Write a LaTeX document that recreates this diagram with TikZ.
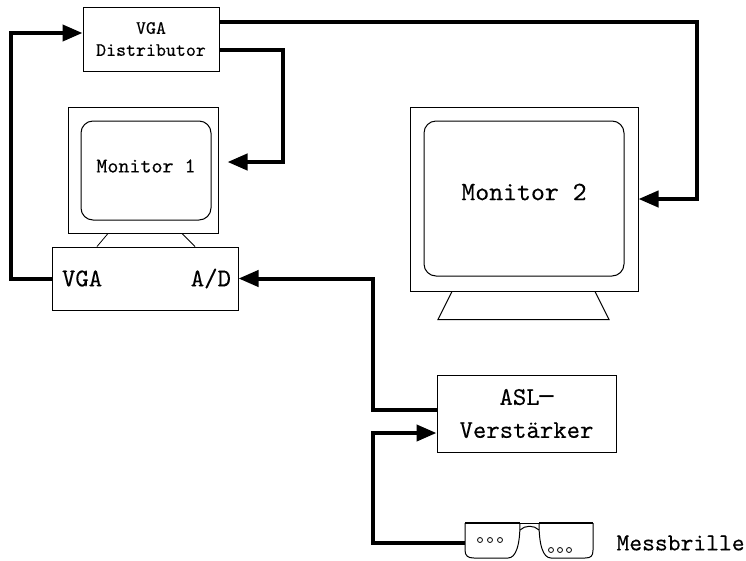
\documentclass[tikz,border=0pt]{standalone}
\usepackage{fontspec}
\newfontfamily\devfont{lmmono10-regular}[Extension=.otf, FakeBold=0.2]
\newfontfamily\dashfont{DejaVu Sans Mono}
\usetikzlibrary{arrows.meta, positioning, calc}

\begin{document}
\begin{tikzpicture}[x=1pt, y=-1pt,
    box/.style={draw, line width=1pt, inner sep=0pt, font=\devfont},
    screen/.style={draw, line width=1pt, rounded corners=12pt, inner sep=0pt},
    conn/.style={line width=4pt, -{Triangle[length=20pt, width=16pt]}}]
    \useasboundingbox (0,0) rectangle (746,560);

    % Geraete
    \node[box, minimum width=136pt, minimum height=64pt, align=center,
          font=\devfont\fontsize{19}{22}\selectfont] (dist) at (151,39) {VGA\\Distributor};
    \node[box, minimum width=150pt, minimum height=126pt] (mon1) at (143,170) {};
    \node[screen, minimum width=130pt, minimum height=99pt] (scr1) at (146,170.5) {};
    \node[font=\devfont\fontsize{21}{24}\selectfont] (txt1) at (146,166) {Monitor 1};
    \node[box, minimum width=186pt, minimum height=63pt] (pc) at (145,278.5) {};
    \node[font=\devfont\fontsize{25.5}{28}\selectfont, anchor=west] (vga) at ([xshift=7pt]pc.west) {VGA};
    \node[font=\devfont\fontsize{25.5}{28}\selectfont, anchor=east] (ad) at ([xshift=-4pt]pc.east) {A/D};

    \node[box, minimum width=228pt, minimum height=184pt] (mon2) at (524,199) {};
    \node[screen, minimum width=200pt, minimum height=155pt] (scr2) at (524,198.5) {};
    \node[font=\devfont\fontsize{26.5}{30}\selectfont] (txt2) at (524,192) {Monitor 2};

    \node[box, minimum width=179pt, minimum height=77pt, align=center,
          font=\devfont\fontsize{25.5}{33}\selectfont] (asl) at (526.5,413.5)
          {ASL{\dashfont\fontsize{23}{33}\selectfont ─}\\Verstärker};

    % Monitorfuesse
    \draw[line width=0.8pt] ($(mon1.south)+(-35,0)$) -- ($(pc.north)+(-48,0)$);
    \draw[line width=0.8pt] ($(mon1.south)+(39,0)$) -- ($(pc.north)+(50,0)$);
    \draw[line width=1pt] ($(mon2.south)+(-72,0)$) -- ++(-14,28) -- ++(171,0) -- ++(-14,-28);

    % Messbrille
    \draw[line width=1pt] (465,523) -- (465,550) .. controls (465,556) and (468,558) .. (474,558)
        -- (508,558) .. controls (516,558) and (520,545) .. (520,523);
    \draw[line width=1pt] (539,523) .. controls (539,545) and (543,558) .. (551,558)
        -- (585,558) .. controls (591,558) and (593,556) .. (593,550) -- (593,523);
    \draw[line width=2.5pt] (465,523) -- (520,523) (539,523) -- (593,523);
    \draw[line width=1pt] (520,523) -- (539,523);
    \draw[line width=1pt] (520,530) .. controls (525,525) and (534,525) .. (539,530);
    \foreach \x in {480,490,500} \draw[line width=0.8pt] (\x,540) circle[radius=2.5pt];
    \foreach \x in {551,560,569} \draw[line width=0.8pt] (\x,550) circle[radius=2.5pt];
    \coordinate (brille) at (465,543);
    \node[font=\devfont\fontsize{24.4}{27}\selectfont, anchor=west] (messtext) at (613,543) {Messbrille};

    % Verbindungen
    \draw[conn] (pc.west) -- ++(-41,0) |- ([yshift=6pt]dist.west);
    \draw[conn, shorten >=9pt] ([yshift=-11pt]dist.east) -- ++(63,0) |- ([yshift=8pt]mon1.east);
    \draw[conn] ([yshift=17pt]dist.east) -- ++(477,0) |- (mon2.east);
    \draw[conn] ([yshift=3.5pt]asl.west) -- ++(-64,0) |- (pc.east);
    \draw[conn] (brille) -- ++(-92,0) |- ([yshift=-19.5pt]asl.west);
\end{tikzpicture}
\end{document}
